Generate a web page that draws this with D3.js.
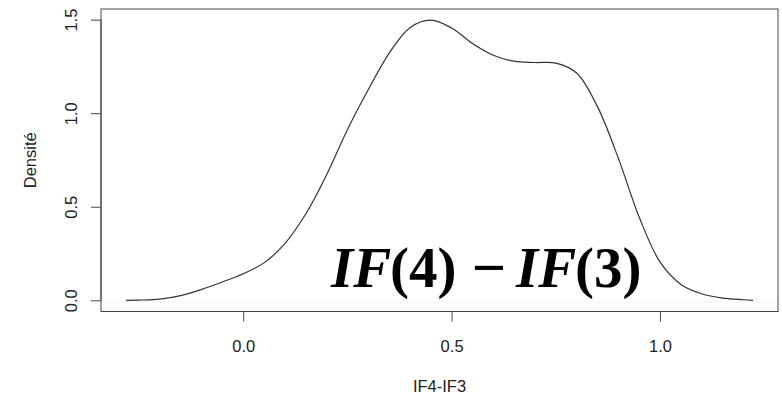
<!DOCTYPE html>
<html><head><meta charset="utf-8">
<script src="https://cdn.jsdelivr.net/npm/d3@7"></script>
<style>html,body{margin:0;padding:0;background:#fff;}svg{display:block;}</style>
</head><body>
<svg id="chart" width="782" height="394"></svg>
<script>
// Density curve
const xs = [-0.281,-0.25,-0.20,-0.15,-0.10,-0.05,0.00,0.05,0.10,0.15,0.20,0.25,0.30,0.35,0.40,0.45,0.50,0.55,0.60,0.65,0.70,0.75,0.80,0.85,0.90,0.95,1.00,1.05,1.10,1.15,1.20,1.223];
const ys = [0.0,0.001,0.006,0.025,0.058,0.098,0.142,0.200,0.303,0.461,0.670,0.912,1.125,1.320,1.457,1.497,1.455,1.373,1.310,1.278,1.271,1.268,1.215,1.035,0.760,0.445,0.205,0.085,0.035,0.012,0.003,0.0];
const xTicks = [0.0, 0.5, 1.0];
const yTicks = [0.0, 0.5, 1.0, 1.5];
const xTitle = "IF4-IF3";
const yTitle = "Densité";

const svg = d3.select("#chart");
const L = 101, R = 778, T = 9, B = 311.5;
const xr = d3.extent(xs), yMax = d3.max(ys);
const xpad = (xr[1]-xr[0])*0.04;
const x = d3.scaleLinear().domain([xr[0]-xpad, xr[1]+xpad]).range([L, R]);
const y = d3.scaleLinear().domain([-0.04*yMax, 1.04*yMax]).range([B, T]);

// faint line (edge of pasted label)
svg.append("line").attr("x1", L+1).attr("x2", R-1).attr("y1", 302).attr("y2", 302)
  .attr("stroke", "#f2f2f2").attr("stroke-width", 1);

const pts = xs.map((d,i)=>[d, ys[i]]);
svg.append("path").datum(pts)
  .attr("d", d3.line().x(d=>x(d[0])).y(d=>y(d[1])).curve(d3.curveCatmullRom.alpha(0.5)))
  .attr("fill","none").attr("stroke","#333").attr("stroke-width",1.2);

svg.append("rect").attr("x", L).attr("y", T).attr("width", R-L).attr("height", B-T)
  .attr("fill","none").attr("stroke","#444").attr("stroke-width",1);

const font = "'Liberation Sans', Arial, Helvetica, sans-serif";
const fs = 16.5;
const xa = svg.append("g").attr("transform", `translate(0,${B})`)
  .call(d3.axisBottom(x).tickValues(xTicks).tickFormat(d3.format(".1f")).tickSize(10).tickPadding(18));
const ya = svg.append("g").attr("transform", `translate(${L},0)`)
  .call(d3.axisLeft(y).tickValues(yTicks).tickFormat(d3.format(".1f")).tickSize(10).tickPadding(14));
[xa, ya].forEach(a=>{
  a.select(".domain").attr("stroke","#444");
  a.selectAll(".tick line").attr("stroke","#444");
  a.selectAll("text").attr("font-family", font).attr("font-size", fs).attr("fill","#222");
});
// R style: axis line spans only the ticks
xa.select(".domain").attr("d", `M${x(xTicks[0])},0H${x(xTicks[xTicks.length-1])}`);
ya.select(".domain").attr("d", `M0,${y(yTicks[0])}V${y(yTicks[yTicks.length-1])}`);
xa.selectAll(".tick text").attr("dy", null).attr("y", 40.5);
// rotate y tick labels
ya.selectAll(".tick text").attr("transform", "rotate(-90)").attr("x", 0).attr("y", -24)
  .attr("dy", null).attr("text-anchor","middle");

svg.append("text").attr("x", (L+R)/2).attr("y", 392).attr("text-anchor","middle")
  .attr("font-family", font).attr("font-size", fs).attr("fill","#222").text(xTitle);
svg.append("text").attr("transform", `translate(36,${(T+B)/2}) rotate(-90)`).attr("text-anchor","middle")
  .attr("font-family", font).attr("font-size", fs).attr("fill","#222").text(yTitle);

// big formula label
const serif = "'Liberation Serif', 'DejaVu Serif', serif";
const lab = svg.append("text").attr("y", 287)
  .attr("font-family", serif).attr("font-size", 57)
  .attr("font-weight","bold").attr("fill","#000");
lab.append("tspan").attr("x", 331).attr("font-style","italic").text("IF");
lab.append("tspan").attr("x", 390).text("(4)");
lab.append("tspan").attr("x", 472).attr("font-family", font).attr("font-weight","normal").attr("font-size", 58).text("−");
lab.append("tspan").attr("x", 516).attr("font-style","italic").text("IF");
lab.append("tspan").attr("x", 575).text("(3)");
</script>
</body></html>
